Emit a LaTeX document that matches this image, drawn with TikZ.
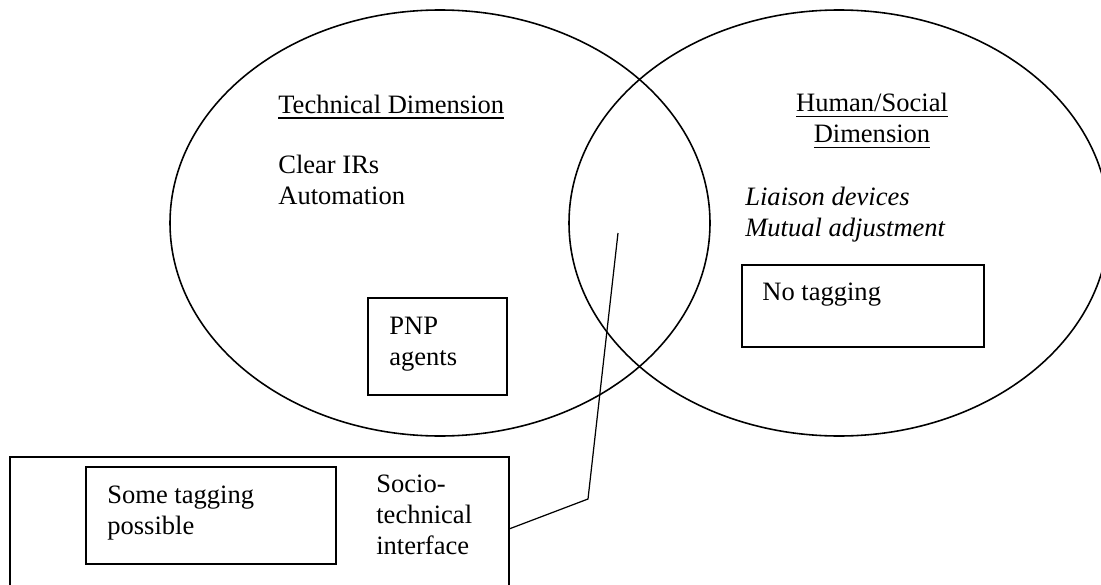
\documentclass[tikz,border=0pt]{standalone}
\usepackage{fontspec}
\setmainfont{Liberation Serif}
\usepackage{tikz}

\newsavebox{\ulbox}
\newcommand{\undertext}[1]{\sbox{\ulbox}{#1}\rlap{\rule[-3pt]{\wd\ulbox}{0.8pt}}\usebox{\ulbox}}

\begin{document}
\begin{tikzpicture}[
    box/.style={draw, line width=0.9pt, inner sep=0pt, outer sep=0pt},
    txt/.style={inner sep=0pt, anchor=north west, align=left},
    every node/.style={font=\fontsize{15.1}{17.6}\selectfont}
  ]
    %\draw[help lines, step=1] (0, 0) grid (22, 11);
    \useasboundingbox (0, 0) rectangle (22.02, 11.68);
    \clip (0, 0) rectangle (22.02, 11.68);

    \coordinate (T) at (8.8, 7.22);
    \coordinate (H) at (16.78, 7.22);
    \draw[line width=0.9pt] (T) ellipse [x radius=5.4, y radius=4.26];
    \draw[line width=0.9pt] (H) ellipse [x radius=5.4, y radius=4.26];

    \node[txt] (techtitle) at (5.56, 9.79) {\undertext{Technical Dimension}};
    \node[txt] (techitems) at (5.56, 8.58) {Clear IRs\\Automation};

    \node[txt, align=center, anchor=north] (humantitle) at (17.44, 9.82) {\undertext{Human/Social}\\\undertext{Dimension}};
    \node[txt] (humanitems) at (14.9, 7.94) {\textit{Liaison devices}\\\textit{Mutual adjustment}};

    \node[box, minimum width=2.78cm, minimum height=1.94cm, anchor=south west] (pnpbox) at (7.36, 3.78) {};
    \node[txt] (pnp) at ([shift={(0.42,-0.38)}]pnpbox.north west) {PNP\\agents};

    \node[box, minimum width=4.84cm, minimum height=1.64cm, anchor=south west] (nobox) at (14.84, 4.74) {};
    \node[txt] (notag) at ([shift={(0.4,-0.36)}]nobox.north west) {No tagging};

    % the lower edge runs off the page
    \node[box, minimum width=9.98cm, minimum height=2.74cm, anchor=south west] (interface) at (0.2, -0.2) {};
    \node[box, minimum width=5cm, minimum height=1.94cm, anchor=south west] (somebox) at (1.72, 0.4) {};
    \node[txt] (sometag) at ([shift={(0.42,-0.38)}]somebox.north west) {Some tagging\\possible};
    \node[txt] (socio) at ([shift={(7.32,-0.36)}]interface.north west) {Socio-\\technical\\interface};

    \coordinate (bend) at (11.76, 1.7);
    \coordinate (tip) at (12.36, 7.02);
    \draw[line width=0.7pt] ([yshift=-1.44cm]interface.north east) -- (bend) -- (tip);

  \end{tikzpicture}
\end{document}
